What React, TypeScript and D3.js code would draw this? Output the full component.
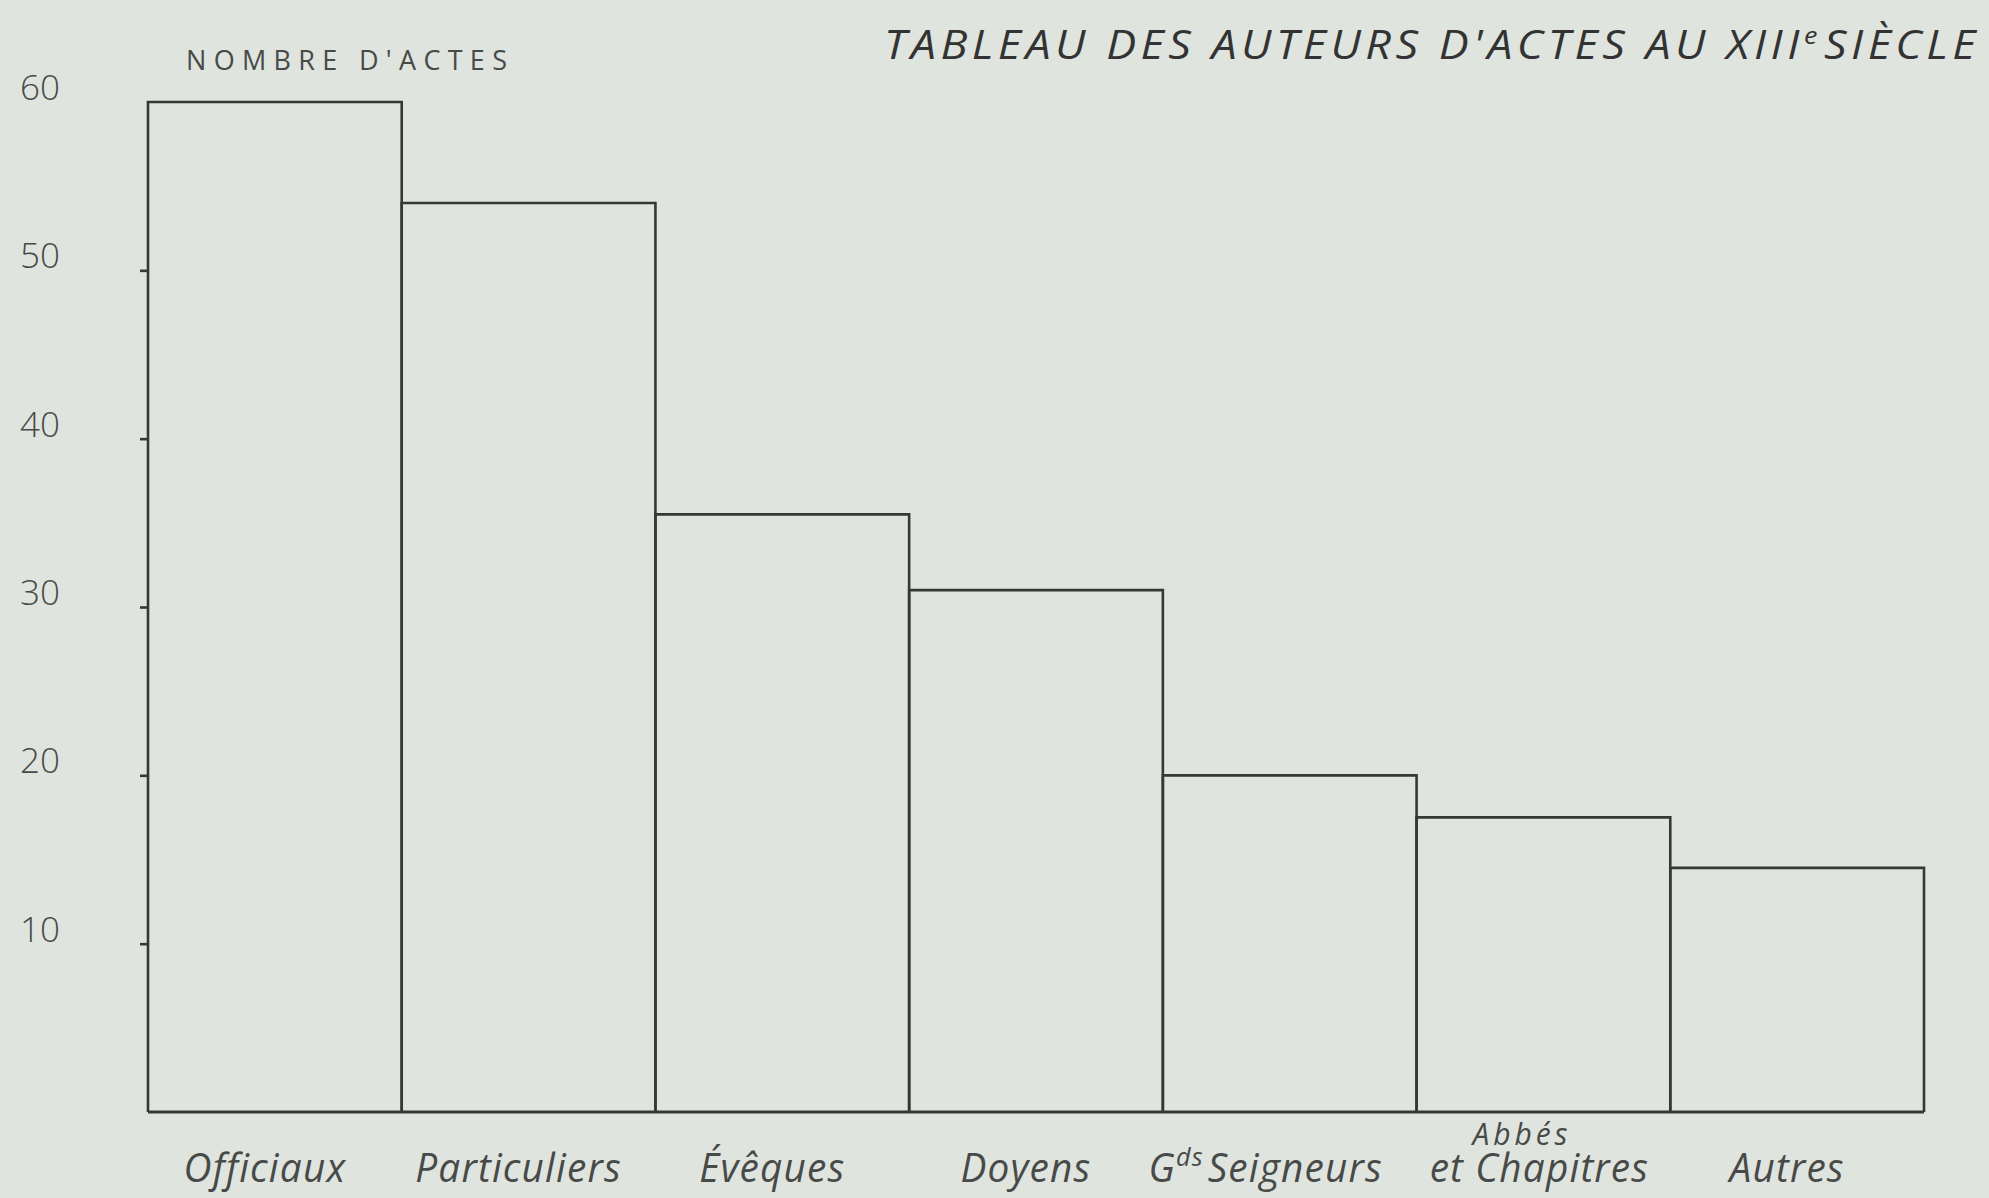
import { useEffect, useRef } from 'react';
import * as d3 from 'd3';

// categories / values
const categories = ['Officiaux', 'Particuliers', 'Évêques', 'Doyens', 'Gds Seigneurs', 'Abbés et Chapitres', 'Autres'];
const values = [60, 54, 35.5, 31, 20, 17.5, 14.5];
const tickValues = [10, 20, 30, 40, 50];
const tickLabels = [10, 20, 30, 40, 50, 60];

const W = 1989;
const H = 1198;
const BG = '#dfe4df';
const INK = '#363836';
const TEXT = '#484a48';

export default function App() {
  const svgRef = useRef<SVGSVGElement>(null);

  useEffect(() => {
    if (!svgRef.current) return;
    const svg = d3.select(svgRef.current);
    svg.selectAll('*').remove();

    const margin = { top: 102, right: 65, bottom: 86, left: 148 };
    const x = d3.scaleBand<string>()
      .domain(categories)
      .range([margin.left, W - margin.right])
      .padding(0);
    const y = d3.scaleLinear()
      .domain([0, 60])
      .range([H - margin.bottom, margin.top]);

    svg.append('rect')
      .attr('width', W)
      .attr('height', H)
      .attr('fill', BG);

    // bars (open at the bottom, baseline drawn separately)
    svg.append('g')
      .selectAll('path')
      .data(categories)
      .enter()
      .append('path')
      .attr('fill', 'none')
      .attr('stroke', INK)
      .attr('stroke-width', 2.6)
      .attr('d', (d, i) => {
        const x0 = x(d)!;
        const x1 = x0 + x.bandwidth();
        return `M${x0},${y(0)}V${y(values[i])}H${x1}V${y(0)}`;
      });

    // baseline
    svg.append('line')
      .attr('x1', x.range()[0])
      .attr('x2', x.range()[1])
      .attr('y1', y(0))
      .attr('y2', y(0))
      .attr('stroke', INK)
      .attr('stroke-width', 3.2);

    // y ticks
    const yAxis = d3.axisLeft(y)
      .tickValues(tickValues)
      .tickSize(8)
      .tickFormat(() => '');
    const axisG = svg.append('g')
      .attr('transform', `translate(${margin.left},0)`)
      .call(yAxis);
    axisG.select('.domain').remove();
    axisG.selectAll('line').attr('stroke', INK).attr('stroke-width', 2.6);

    svg.append('g')
      .selectAll('text')
      .data(tickLabels)
      .enter()
      .append('text')
      .attr('x', 40)
      .attr('y', d => y(d) - 2)
      .attr('text-anchor', 'middle')
      .attr('font-family', '"Open Sans", sans-serif')
      .attr('font-weight', 300)
      .attr('font-size', 35)
      .attr('fill', TEXT)
      .text(d => d);

    // axis title
    svg.append('text')
      .attr('x', 186)
      .attr('y', 70)
      .attr('font-family', '"Open Sans", sans-serif')
      .attr('font-weight', 400)
      .attr('font-size', 27)
      .attr('fill', TEXT)
      .attr('textLength', 321)
      .attr('lengthAdjust', 'spacing')
      .text("NOMBRE D'ACTES");

    // main title, squeezed to the width it takes in the scan
    const italicFont = '"Open Sans", "DejaVu Sans", sans-serif';
    const title = svg.append('text')
      .attr('x', 0)
      .attr('y', 0)
      .attr('font-family', italicFont)
      .attr('font-style', 'italic')
      .attr('font-size', 40)
      .attr('fill', '#333')
      .attr('letter-spacing', 4);
    title.append('tspan').text("TABLEAU DES AUTEURS D'ACTES AU XIII");
    title.append('tspan').attr('dy', -15).attr('font-size', 24).attr('letter-spacing', 0).text('e');
    title.append('tspan').attr('dy', 15).attr('dx', 6).text('SIÈCLE');
    const tw = (title.node() as SVGTextElement).getBBox().width || 1096;
    title.attr('transform', `translate(884,59) scale(${1096 / tw},1)`);

    // category labels
    const labels = svg.append('g')
      .attr('font-family', italicFont)
      .attr('font-style', 'italic')
      .attr('font-size', 40)
      .attr('fill', TEXT)
      .attr('letter-spacing', 1.2)
      .attr('text-anchor', 'middle');

    const baseY = H - 16;
    const sx = 0.97;
    categories.forEach(c => {
      const cx = x(c)! + x.bandwidth() / 2 - 10;
      if (c === 'Gds Seigneurs') {
        const t = labels.append('text')
          .attr('transform', `translate(${cx - 14},${baseY}) scale(${sx},1)`);
        t.append('tspan').text('G');
        t.append('tspan').attr('dy', -16).attr('font-size', 26).text('ds');
        t.append('tspan').attr('dy', 16).attr('dx', 4).text('Seigneurs');
      } else if (c === 'Abbés et Chapitres') {
        // two lines in one text element
        const t = labels.append('text')
          .attr('transform', `translate(${cx + 6},${baseY}) scale(${sx},1)`);
        t.append('tspan')
          .attr('x', -18)
          .attr('y', -37)
          .attr('font-size', 31)
          .attr('letter-spacing', 4)
          .text('Abbés');
        t.append('tspan')
          .attr('x', 0)
          .attr('y', 0)
          .text('et Chapitres');
      } else {
        labels.append('text')
          .attr('transform', `translate(${cx},${baseY}) scale(${sx},1)`)
          .text(c);
      }
    });
  }, []);

  return (
    <svg
      ref={svgRef}
      width={W}
      height={H}
      style={{ position: 'absolute', left: 0, top: 0, display: 'block' }}
    />
  );
}
